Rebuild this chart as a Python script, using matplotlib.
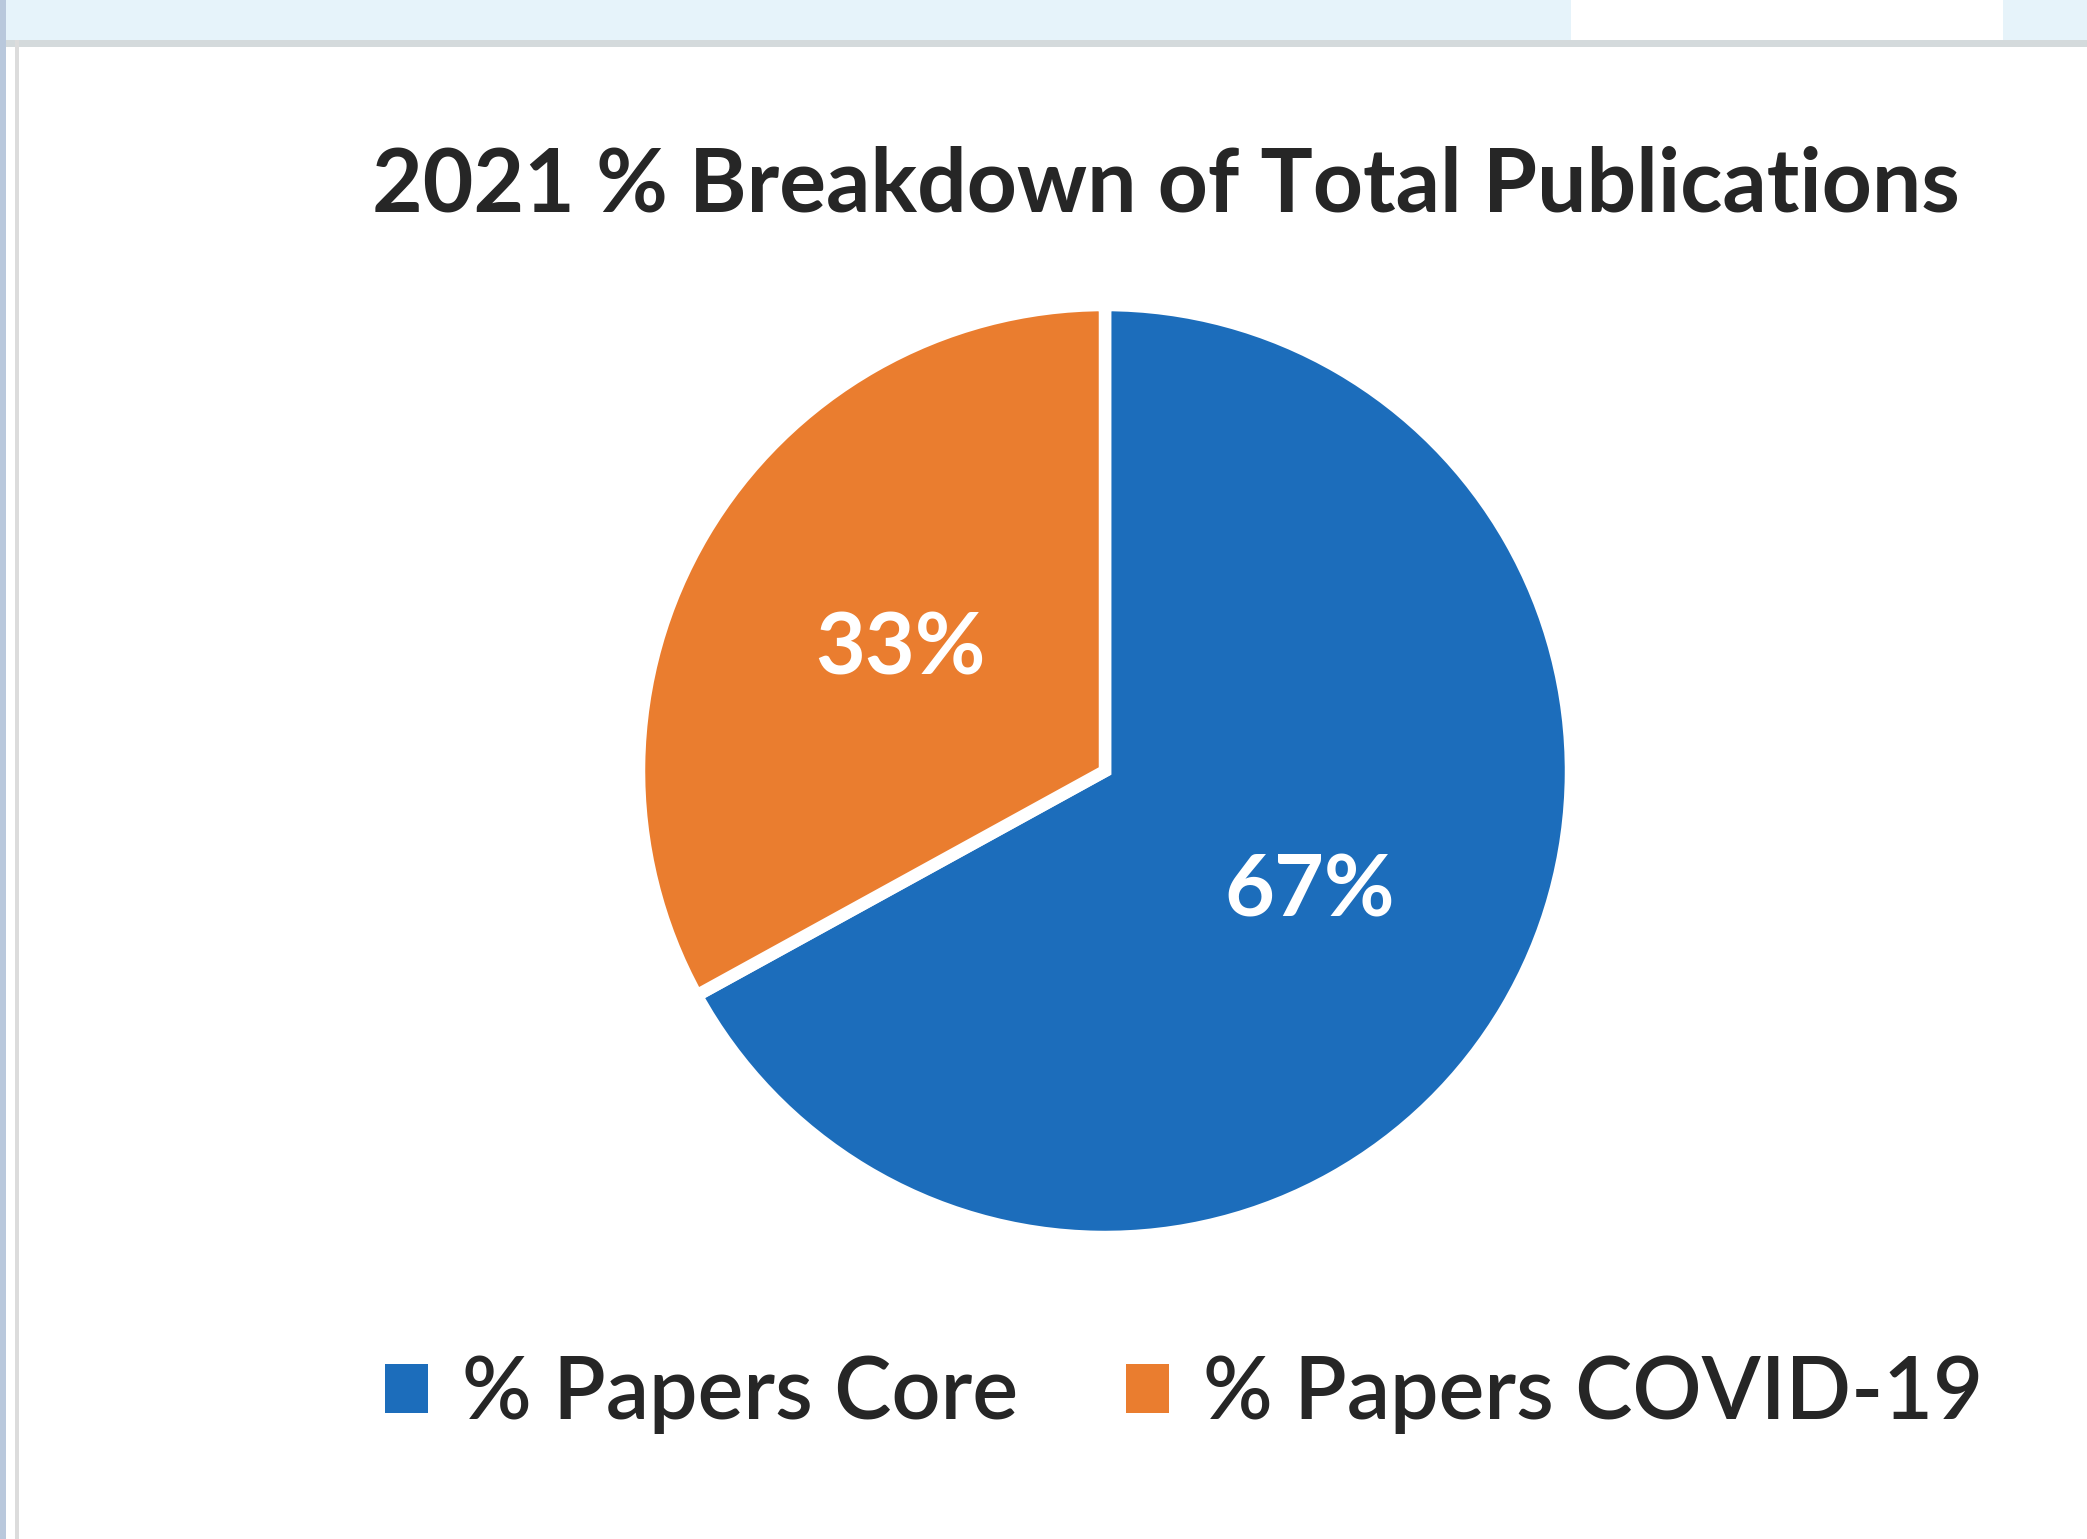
import matplotlib.pyplot as plt
import matplotlib.patches as mpatches

# data
labels = ['% Papers Core', '% Papers COVID-19']
shares = [67, 33]
colors = ['#1c6dbb', '#ea7d2f']
title = '2021 % Breakdown of Total Publications'

plt.rcParams['font.family'] = ['Lato', 'DejaVu Sans']

W, H = 2087, 1539
fig = plt.figure(figsize=(W / 100, H / 100), dpi=100)
fig.patch.set_facecolor('white')

# screenshot frame: window strip on top, border on the left
fig.add_artist(mpatches.Rectangle((0, 1 - 40 / H), 1, 40 / H, transform=fig.transFigure,
                                  facecolor='#e6f3fa', edgecolor='none'))
fig.add_artist(mpatches.Rectangle((1571 / W, 1 - 40 / H), 432 / W, 40 / H, transform=fig.transFigure,
                                  facecolor='white', edgecolor='none'))
fig.add_artist(mpatches.Rectangle((0, 1 - 47 / H), 1, 7 / H, transform=fig.transFigure,
                                  facecolor='#d4dadc', edgecolor='none'))
fig.add_artist(mpatches.Rectangle((0, 0), 6 / W, 1, transform=fig.transFigure,
                                  facecolor='#b9c8dc', edgecolor='none'))
fig.add_artist(mpatches.Rectangle((15 / W, 0), 4 / W, 1 - 40 / H, transform=fig.transFigure,
                                  facecolor='#dcdcdc', edgecolor='none'))

# pie axes: centre (1105, 771) px, radius ~460 px
cx, cy, r = 1105, 771, 466
ax = fig.add_axes([(cx - r) / W, (H - cy - r) / H, 2 * r / W, 2 * r / H])
wedges, texts, autotexts = ax.pie(shares, colors=colors, startangle=90, counterclock=False,
                                  autopct=lambda p: '{:.0f}%'.format(p), pctdistance=0.51,
                                  wedgeprops=dict(edgecolor='white', linewidth=9))
for t in autotexts:
    t.set_color('white')
    t.set_fontsize(62)
    t.set_fontweight('bold')
ax.set_xlim(-1, 1)
ax.set_ylim(-1, 1)
ax.set_aspect('equal')

fig.text(1166 / W, 1 - 186 / H, title, ha='center', va='center', fontsize=63,
         color='#262626', fontweight='bold')

handles = [mpatches.Patch(facecolor=c, edgecolor='none') for c in colors]
fig.legend(handles, labels, loc='center', bbox_to_anchor=(1184 / W, 1 - 1395 / H),
           ncol=2, frameon=False, handlelength=0.5, handleheight=0.5,
           columnspacing=1.25, handletextpad=0.4, labelcolor='#262626',
           prop=dict(size=62, weight='semibold'))

fig.savefig('out.png', dpi=100)
